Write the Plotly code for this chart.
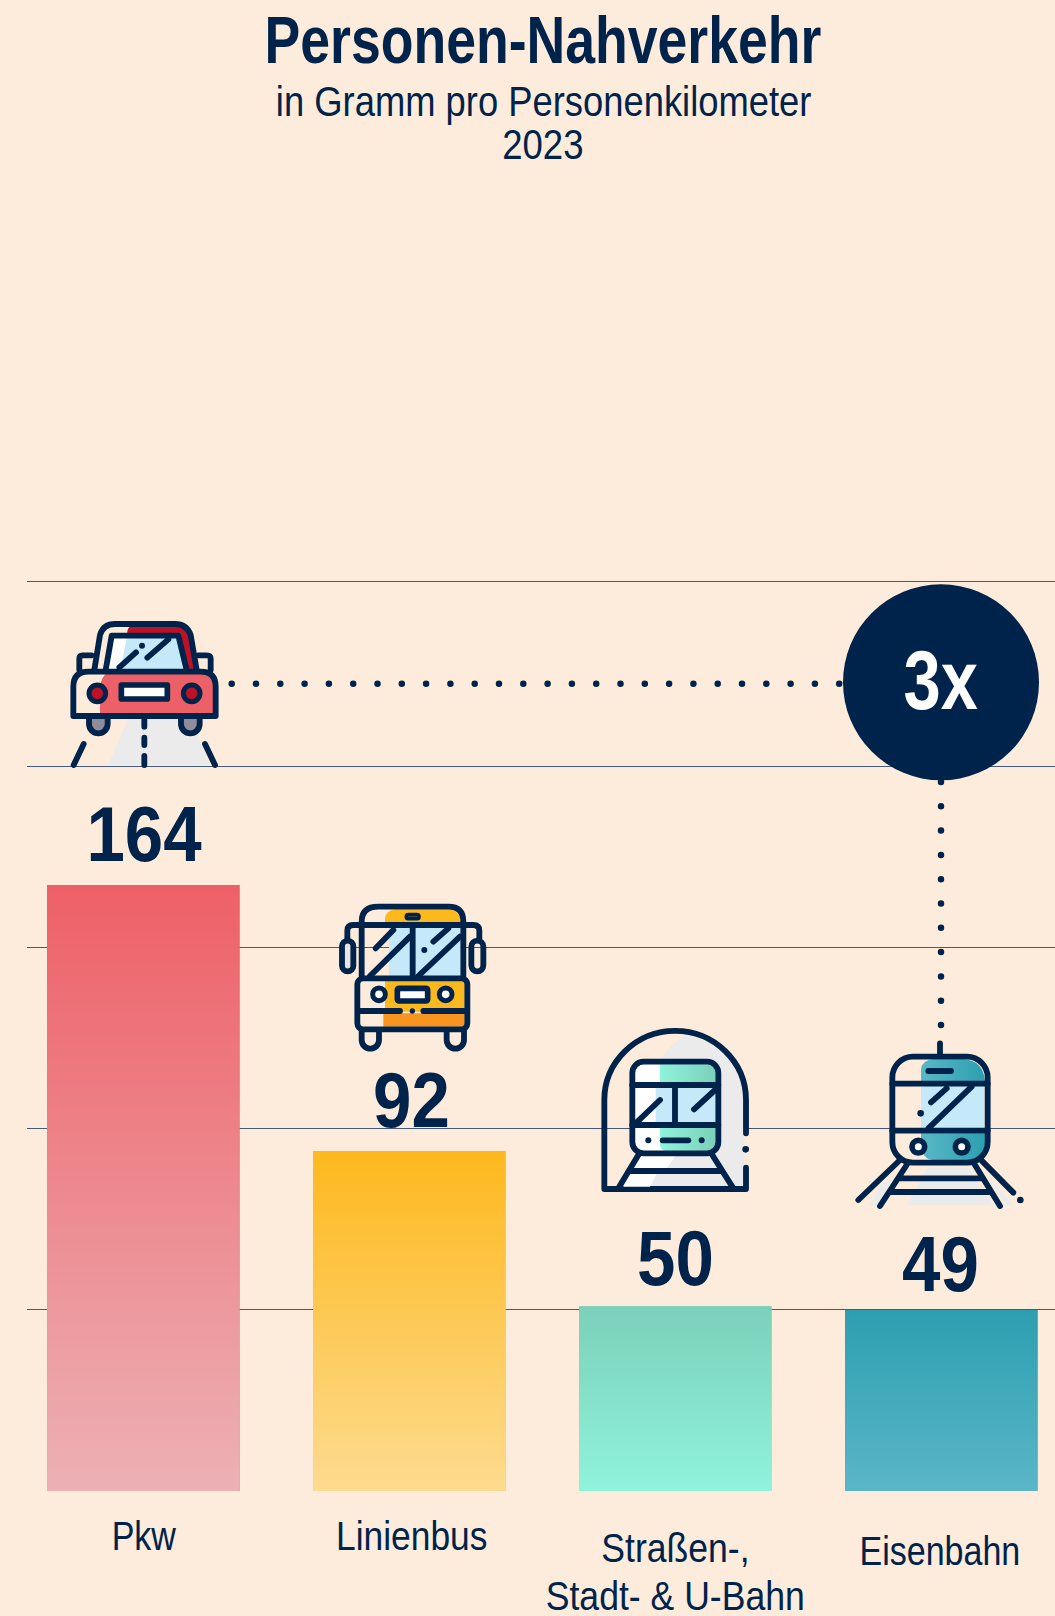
import base64
import plotly.graph_objects as go

# ---- data ----
categories = ["Pkw", "Linienbus", "Straßen-,<br>Stadt- &amp; U-Bahn", "Eisenbahn"]
values = [164, 92, 50, 49]
grid_values = [50, 100, 150, 200, 251]
bar_top_colors = ["#ee6067", "#fdb81e", "#7bd0b9", "#2d9fb0"]
bar_bottom_colors = ["#ecb1b5", "#fddb8f", "#90f3db", "#5ab6c8"]
title = "Personen-Nahverkehr"
subtitle_lines = ["in Gramm pro Personenkilometer", "2023"]
factor_text = "3x"

# ---- style ----
W, H = 1055, 1616
BG = "#fdecdb"
NAVY = "#00234b"
FONT = "Liberation Sans"
BASE_PX = 1491
LEFT_PX = 27
PITCH = 266
FIRST_CENTER = 143.3
BAR_W = 192.5 / PITCH
SCALE = 3.695
GRID_SCALE = 3.625


def px(x):
    return x / W


def py(y):
    return 1 - y / H


def svg_image(body, x0, y0, w, h, vb_w=None, vb_h=None):
    vb_w = vb_w or w
    vb_h = vb_h or h
    svg = (f'<svg xmlns="http://www.w3.org/2000/svg" width="{w}" height="{h}" '
           f'viewBox="0 0 {vb_w} {vb_h}" preserveAspectRatio="none">{body}</svg>')
    src = "data:image/svg+xml;base64," + base64.b64encode(svg.encode()).decode()
    return dict(source=src, xref="paper", yref="paper", x=px(x0), y=py(y0),
                sizex=w / W, sizey=h / H, xanchor="left", yanchor="top",
                sizing="stretch", layer="above")


S = f'fill="none" stroke="{NAVY}" stroke-width="17.5" stroke-linecap="round" stroke-linejoin="round"'
DOT = f'fill="{NAVY}"'
RED, DRED, BLUE, GRAY = "#ee6067", "#bd1226", "#c6e9f9", "#ebebeb"
YEL, ORG = "#fdb81e", "#f9941e"

car = f'''
<path d="M205,525 L265,385 H450 L510,525 Z" fill="{GRAY}"/>
<path d="M147,380 V402 a28,28 0 0 0 56,0 V380 Z" fill="#8f8d9c"/>
<path d="M423,380 V402 a28,28 0 0 0 56,0 V380 Z" fill="#8f8d9c"/>
<path d="M147,380 V402 a28,28 0 0 0 56,0 V380 M423,380 V402 a28,28 0 0 0 56,0 V380" {S}/>
<path d="M262,122 Q268,104 285,102 H405 Q440,102 452,135 L470,240 H440 L415,135 H262 Z" fill="{DRED}"/>
<path d="M197,240 L215,137 H415 L440,240 Z" fill="{BLUE}"/>
<path d="M197,240 L215,137 H262 L240,240 Z" fill="#ffffff"/>
<path d="M163,240 L180,135 Q190,102 225,102 H405 Q440,102 452,135 L470,240" {S}/>
<path d="M197,240 L215,137 H415 L440,240" {S}/>
<path d="M238,232 L288,187 M322,203 L385,148" {S}/>
<circle cx="306" cy="167" r="9" {DOT}/>
<path d="M118,240 V206 Q118,196 128,196 H155 M475,196 H500 Q512,196 512,206 V240" {S}/>
<path d="M180,378 V290 Q182,262 205,245 H482 Q527,245 527,290 V378 Z" fill="{RED}"/>
<path d="M100,378 V290 Q100,245 145,245 H482 Q527,245 527,290 V378 Z" {S}/>
<rect x="244" y="285" width="138" height="42" fill="#ffffff" stroke="{NAVY}" stroke-width="17" stroke-linejoin="round"/>
<circle cx="172" cy="310" r="25" fill="{DRED}" stroke="{NAVY}" stroke-width="15"/>
<circle cx="455" cy="310" r="25" fill="{DRED}" stroke="{NAVY}" stroke-width="15"/>
<path d="M313,388 V410 M313,443 V465 M313,498 V525 M131,462 L101,525 M495,462 L525,525" {S}/>
'''

bus = f'''
<path d="M195,104 V90 Q195,60 228,58 H385 Q422,60 424,104 Z" fill="{YEL}"/>
<path d="M125,104 V95 Q125,50 175,50 H385 Q430,50 430,95 V104" {S}/>
<rect x="259" y="74" width="38" height="12" rx="6" fill="{YEL}" stroke="{NAVY}" stroke-width="11"/>
<rect x="207" y="108" width="215" height="152" fill="{BLUE}"/>
<path d="M66,156 a20,20 0 0 1 36,0 V228 a19,19 0 0 1 -36,0 Z" fill="#e8e6e4"/>
<path d="M82,150 V122 Q82,105 100,105 H460 Q478,105 478,122 V150" {S}/>
<rect x="66" y="152" width="34" height="92" rx="17" {S}/>
<rect x="454" y="152" width="36" height="92" rx="18" {S}/>
<path d="M125,105 V262 M430,105 V262 M278,105 V258" {S}/>
<path d="M150,258 L270,140 M167,175 L220,120 M295,258 L420,140 M340,155 L385,115" {S}/>
<circle cx="313" cy="180" r="9" {DOT}/>
<path d="M195,272 H434 V365 H195 Z" fill="{YEL}"/>
<path d="M190,370 H434 V410 H190 Z" fill="{ORG}"/>
<rect x="112" y="265" width="330" height="153" rx="18" {S}/>
<path d="M118,363 H240 M310,363 H436" {S}/>
<circle cx="277" cy="363" r="8" {DOT}/>
<circle cx="177" cy="313" r="19" fill="#ffffff" stroke="{NAVY}" stroke-width="15"/>
<circle cx="377" cy="313" r="19" fill="#ffffff" stroke="{NAVY}" stroke-width="15"/>
<rect x="232" y="295" width="91" height="38" rx="5" fill="#ffffff" stroke="{NAVY}" stroke-width="17"/>
<path d="M125,422 V450 a26,26 0 0 0 52,0 V422 M380,422 V450 a26,26 0 0 0 52,0 V422" {S}/>
'''

tunnel = f'''
<defs><linearGradient id="m" x1="0" x2="1" y1="0" y2="0"><stop offset="0" stop-color="#90f3db"/><stop offset="1" stop-color="#7bd0b9"/></linearGradient></defs>
<path d="M305,60 Q240,95 225,150 V410 L195,515 H478 V250 Q470,100 305,60 Z" fill="{GRAY}"/>
<path d="M483,355 V255 A212,207 0 0 0 58,255 V522 H483 V458" {S}/>
<circle cx="482" cy="403" r="10" {DOT}/>
<rect x="142" y="140" width="258" height="275" rx="34" fill="#ffffff"/>
<path d="M225,148 H362 Q392,148 392,178 V210 H225 Z" fill="url(#m)"/>
<rect x="212" y="210" width="180" height="120" fill="{BLUE}"/>
<path d="M225,330 H392 V378 Q392,408 362,408 H245 Q225,408 225,385 Z" fill="url(#m)"/>
<rect x="142" y="140" width="258" height="275" rx="34" {S}/>
<path d="M142,210 H400 M142,330 H400 M270,210 V330 M155,322 L225,255 M327,283 L390,225" {S}/>
<circle cx="190" cy="376" r="9" {DOT}/>
<circle cx="350" cy="376" r="9" {DOT}/>
<path d="M233,376 H310" {S}/>
<path d="M165,425 H270 L245,460 H145 Z M115,515 L133,478 H215 L195,515 Z" fill="#ffffff"/>
<path d="M160,420 L100,520 M382,420 L445,520 M132,468 H410" {S}/>
'''

train = f'''
<defs><linearGradient id="t" x1="0" x2="1" y1="0" y2="0"><stop offset="0" stop-color="#5ab8c6"/><stop offset="1" stop-color="#2d9fb0"/></linearGradient></defs>
<path d="M250,380 H368 L445,496 H185 Z M112,428 L140,420 L100,496 H75 Z M430,410 L505,496 H480 Z" fill="{GRAY}"/>
<path d="M285,10 V48" {S}/>
<path d="M228,125 V90 Q230,60 265,58 H355 Q415,60 420,125 Z" fill="url(#t)"/>
<rect x="228" y="132" width="190" height="140" fill="{BLUE}"/>
<path d="M228,280 H420 V310 Q418,358 370,360 H265 Q228,358 228,310 Z" fill="url(#t)"/>
<rect x="142" y="50" width="286" height="318" rx="62" {S}/>
<path d="M142,131 H428 M142,272 H428 M250,93 H318 M258,187 L305,145 M250,265 L380,140" {S}/>
<circle cx="227" cy="220" r="10" {DOT}/>
<circle cx="220" cy="320" r="19" fill="#ffffff" stroke="{NAVY}" stroke-width="17"/>
<circle cx="350" cy="320" r="19" fill="#ffffff" stroke="{NAVY}" stroke-width="17"/>
<path d="M165,360 L40,480 M410,362 L505,458 M185,375 L105,498 M390,375 L465,498 M160,415 H410 M135,456 H435" {S}/>
<circle cx="526" cy="480" r="10" {DOT}/>
'''

connectors = (
    f'<path d="M231.7,683.7 H840" fill="none" stroke="{NAVY}" stroke-width="6.5" '
    f'stroke-linecap="round" stroke-dasharray="0 24.3"/>'
    f'<path d="M941,782 V1046" fill="none" stroke="{NAVY}" stroke-width="6.5" '
    f'stroke-linecap="round" stroke-dasharray="0 24.3"/>'
)

images = [
    svg_image(connectors, 0, 0, W, H),
    svg_image(car, 40, 590, 220, 200, 660, 600),
    svg_image(bus, 320, 890, 180, 180, 540, 540),
    svg_image(tunnel, 585, 1015, 180, 190, 540, 570),
    svg_image(train, 845, 1040, 190, 180, 570, 540),
]

fig = go.Figure()

# solid bars, with a gradient fill on the same geometry
fig.add_trace(go.Bar(x=list(range(len(values))), y=values, width=BAR_W,
                     marker=dict(color=bar_top_colors, line=dict(width=0)),
                     hoverinfo="skip", showlegend=False))
for i, v in enumerate(values):
    l, r = i - BAR_W / 2, i + BAR_W / 2
    fig.add_trace(go.Scatter(
        x=[l, r, r, l, l], y=[0, 0, v, v, 0], mode="lines", line=dict(width=0),
        fill="toself", hoverinfo="skip", showlegend=False,
        fillgradient=dict(type="vertical",
                          colorscale=[[0, bar_bottom_colors[i]], [1, bar_top_colors[i]]])))

# carrier of the gridline axis
fig.add_trace(go.Scatter(x=[0], y=[0], yaxis="y2", mode="none",
                         hoverinfo="skip", showlegend=False))


def text(x, y, s, size, bold=False, color=NAVY):
    label = f"<b>{s}</b>" if bold else s
    return dict(text=label, xref="paper", yref="paper", x=px(x), y=py(y),
                xanchor="center", yanchor="middle", showarrow=False,
                font=dict(family=FONT, size=size, color=color))


annotations = [
    text(543, 40, title, 66, True),
    text(543, 101, subtitle_lines[0], 43),
    text(543, 144, subtitle_lines[1], 43),
    text(941, 680, factor_text, 84, True, "#ffffff"),
]
squeeze = [0.812, 0.846, 0.85, 0.796]

value_dx = [0.5, 2.5, 0, -1]
value_dy = [51, 51, 48, 46]
for i, v in enumerate(values):
    annotations.append(dict(text=f"<b>{v}</b>", xref="x", yref="y", x=i, y=v,
                            xshift=value_dx[i], yshift=value_dy[i], yanchor="middle",
                            xanchor="center", showarrow=False,
                            font=dict(family=FONT, size=78, color=NAVY)))
    squeeze.append(0.885)

label_dx = [1, 2.5, 0, -1]
label_y = [[1536], [1536], [1548, 1596], [1551]]
label_squeeze = [[0.83], [0.863], [0.868, 0.868], [0.83]]
for i, c in enumerate(categories):
    for line, yy, sq in zip(c.split("<br>"), label_y[i], label_squeeze[i]):
        annotations.append(dict(text=line, xref="x", yref="paper", x=i, y=py(yy),
                                xshift=label_dx[i], xanchor="center", yanchor="middle",
                                showarrow=False,
                                font=dict(family=FONT, size=41, color=NAVY)))
        squeeze.append(sq)

fig.update_layout(
    width=W, height=H, autosize=False,
    margin=dict(l=0, r=0, t=0, b=0, pad=0),
    paper_bgcolor=BG, plot_bgcolor="rgba(0,0,0,0)",
    showlegend=False, barmode="overlay",
    xaxis=dict(domain=[px(LEFT_PX), 1],
               range=[(LEFT_PX - FIRST_CENTER) / PITCH, (W - FIRST_CENTER) / PITCH],
               showgrid=False, zeroline=False, showticklabels=False, ticks="", showline=False),
    yaxis=dict(domain=[py(BASE_PX), 1], range=[0, BASE_PX / SCALE],
               showgrid=False, zeroline=False, showticklabels=False, ticks="", showline=False),
    yaxis2=dict(overlaying="y", range=[0, BASE_PX / GRID_SCALE], tickmode="array",
                tickvals=grid_values, showgrid=True, gridcolor="#44597c", gridwidth=1,
                zeroline=False, showticklabels=False, ticks="", showline=False),
    images=images,
    shapes=[dict(type="circle", xref="paper", yref="paper", layer="above",
                 x0=px(941 - 98), x1=px(941 + 98), y0=py(682.3 + 98), y1=py(682.3 - 98),
                 fillcolor=NAVY, line=dict(width=0))],
    annotations=annotations,
)

# the reference uses a condensed face: narrow each annotation text horizontally
css = ".annotation-text{transform-box:fill-box;transform-origin:center;}"
for k, sq in enumerate(squeeze):
    css += f'.annotation[data-index="{k}"] .annotation-text{{transform:scaleX({sq});}}'
post = f"""
document.body.style.margin='0';
var st=document.createElement('style');
st.textContent={css!r};
document.head.appendChild(st);
"""
fig.write_html("out.html", config=dict(displayModeBar=False), post_script=post)
